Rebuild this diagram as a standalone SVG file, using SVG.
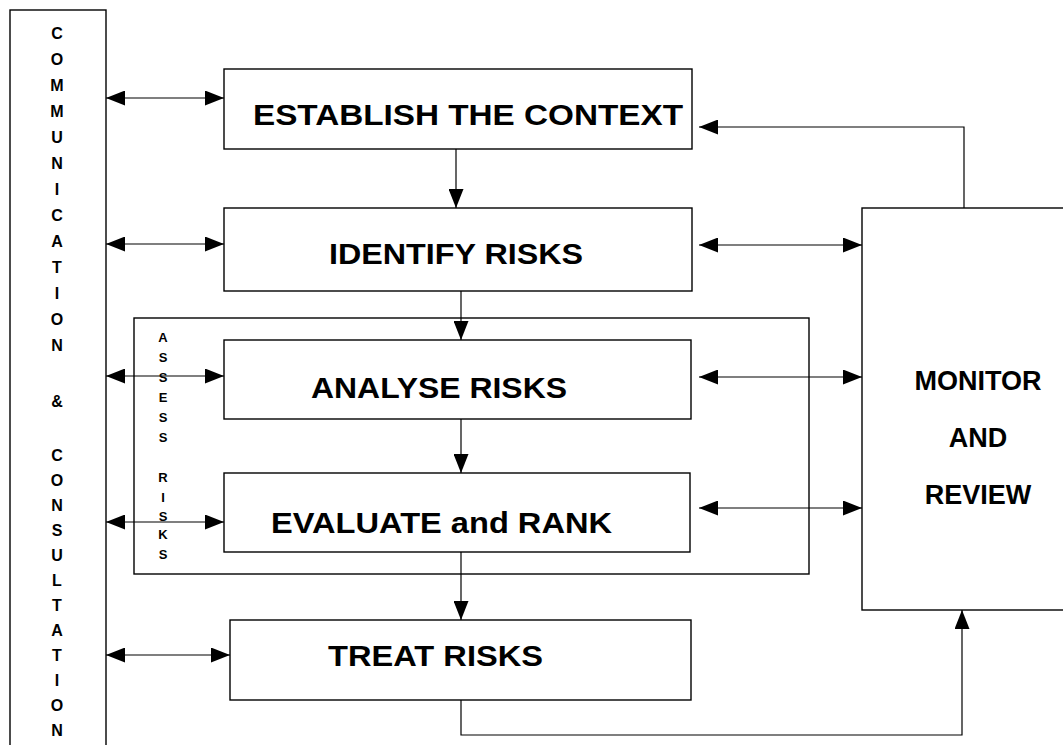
<svg xmlns="http://www.w3.org/2000/svg" width="1063" height="745" viewBox="0 0 1063 745">
<style>
.box{fill:#fff;stroke:#000;stroke-width:1.4}
.frame{fill:none;stroke:#000;stroke-width:1.4}
.lbl{font-family:"Liberation Sans",Arial,sans-serif;font-weight:bold;font-size:29px;fill:#000}
.mon{font-family:"Liberation Sans",Arial,sans-serif;font-weight:bold;font-size:27px;fill:#000;text-anchor:middle}
.col{font-family:"Liberation Sans",Arial,sans-serif;font-weight:bold;font-size:16px;fill:#000;text-anchor:middle}
.ass{font-family:"Liberation Sans",Arial,sans-serif;font-weight:bold;font-size:13px;fill:#000;text-anchor:middle}
.c{fill:none;stroke:#000;stroke-width:1.2}
</style>
<defs>
<marker id="ah" viewBox="0 0 19 15" refX="19" refY="7.5" markerWidth="19" markerHeight="15" markerUnits="userSpaceOnUse" orient="auto-start-reverse">
<path d="M0,0 L19,7.5 L0,15 Z" fill="#000"/>
</marker>
</defs>
<rect width="1063" height="745" fill="#fff"/>

<g id="communication">
<rect class="frame" x="10" y="10" width="96" height="760"/>
<text class="col" x="57" y="39">C</text>
<text class="col" x="57" y="65">O</text>
<text class="col" x="57" y="91">M</text>
<text class="col" x="57" y="117">M</text>
<text class="col" x="57" y="143">U</text>
<text class="col" x="57" y="169">N</text>
<text class="col" x="57" y="195">I</text>
<text class="col" x="57" y="221">C</text>
<text class="col" x="57" y="247">A</text>
<text class="col" x="57" y="273">T</text>
<text class="col" x="57" y="299">I</text>
<text class="col" x="57" y="325">O</text>
<text class="col" x="57" y="351">N</text>
<text class="col" x="57" y="407">&amp;</text>
<text class="col" x="57" y="461">C</text>
<text class="col" x="57" y="486">O</text>
<text class="col" x="57" y="511">N</text>
<text class="col" x="57" y="536">S</text>
<text class="col" x="57" y="561">U</text>
<text class="col" x="57" y="586">L</text>
<text class="col" x="57" y="611">T</text>
<text class="col" x="57" y="636">A</text>
<text class="col" x="57" y="661">T</text>
<text class="col" x="57" y="686">I</text>
<text class="col" x="57" y="711">O</text>
<text class="col" x="57" y="736">N</text>
</g>

<g id="assess">
<rect class="frame" x="134" y="318" width="675" height="256"/>
<text class="ass" x="163" y="342">A</text>
<text class="ass" x="163" y="362">S</text>
<text class="ass" x="163" y="382">S</text>
<text class="ass" x="163" y="402">E</text>
<text class="ass" x="163" y="422">S</text>
<text class="ass" x="163" y="442">S</text>
<text class="ass" x="163" y="482">R</text>
<text class="ass" x="163" y="502">I</text>
<text class="ass" x="163" y="521">S</text>
<text class="ass" x="163" y="539">K</text>
<text class="ass" x="163" y="559">S</text>
</g>

<g id="connectors">
<line class="c" x1="106" y1="98" x2="224" y2="98" marker-start="url(#ah)" marker-end="url(#ah)"/>
<line class="c" x1="106" y1="244" x2="224" y2="244" marker-start="url(#ah)" marker-end="url(#ah)"/>
<line class="c" x1="106" y1="376" x2="224" y2="376" marker-start="url(#ah)" marker-end="url(#ah)"/>
<line class="c" x1="106" y1="522" x2="224" y2="522" marker-start="url(#ah)" marker-end="url(#ah)"/>
<line class="c" x1="106" y1="655" x2="230" y2="655" marker-start="url(#ah)" marker-end="url(#ah)"/>
<line class="c" x1="699" y1="245" x2="862" y2="245" marker-start="url(#ah)" marker-end="url(#ah)"/>
<line class="c" x1="699" y1="377" x2="862" y2="377" marker-start="url(#ah)" marker-end="url(#ah)"/>
<line class="c" x1="699" y1="508" x2="862" y2="508" marker-start="url(#ah)" marker-end="url(#ah)"/>
<line class="c" x1="456" y1="149" x2="456" y2="208" marker-end="url(#ah)"/>
<line class="c" x1="461" y1="291" x2="461" y2="340" marker-end="url(#ah)"/>
<line class="c" x1="461" y1="419" x2="461" y2="473" marker-end="url(#ah)"/>
<line class="c" x1="461" y1="552" x2="461" y2="620" marker-end="url(#ah)"/>
<polyline class="c" points="964,208 964,127 699,127" marker-end="url(#ah)"/>
<polyline class="c" points="461,700 461,735 962,735 962,610" marker-end="url(#ah)"/>
</g>

<g id="establish">
<rect class="box" x="224" y="69" width="468" height="80"/>
<text class="lbl" x="253" y="125" textLength="430" lengthAdjust="spacingAndGlyphs">ESTABLISH THE CONTEXT</text>
</g>
<g id="identify">
<rect class="box" x="224" y="208" width="468" height="83"/>
<text class="lbl" x="329" y="264" textLength="254" lengthAdjust="spacingAndGlyphs">IDENTIFY RISKS</text>
</g>
<g id="analyse">
<rect class="box" x="224" y="340" width="467" height="79"/>
<text class="lbl" x="311" y="398" textLength="256" lengthAdjust="spacingAndGlyphs">ANALYSE RISKS</text>
</g>
<g id="evaluate">
<rect class="box" x="224" y="473" width="466" height="79"/>
<text class="lbl" x="271" y="533" textLength="341" lengthAdjust="spacingAndGlyphs">EVALUATE and RANK</text>
</g>
<g id="treat">
<rect class="box" x="230" y="620" width="461" height="80"/>
<text class="lbl" x="328" y="666" textLength="215" lengthAdjust="spacingAndGlyphs">TREAT RISKS</text>
</g>
<g id="monitor">
<rect class="box" x="862" y="208" width="220" height="402"/>
<text class="mon" x="978" y="390">MONITOR</text>
<text class="mon" x="978" y="447">AND</text>
<text class="mon" x="978" y="504">REVIEW</text>
</g>
</svg>
